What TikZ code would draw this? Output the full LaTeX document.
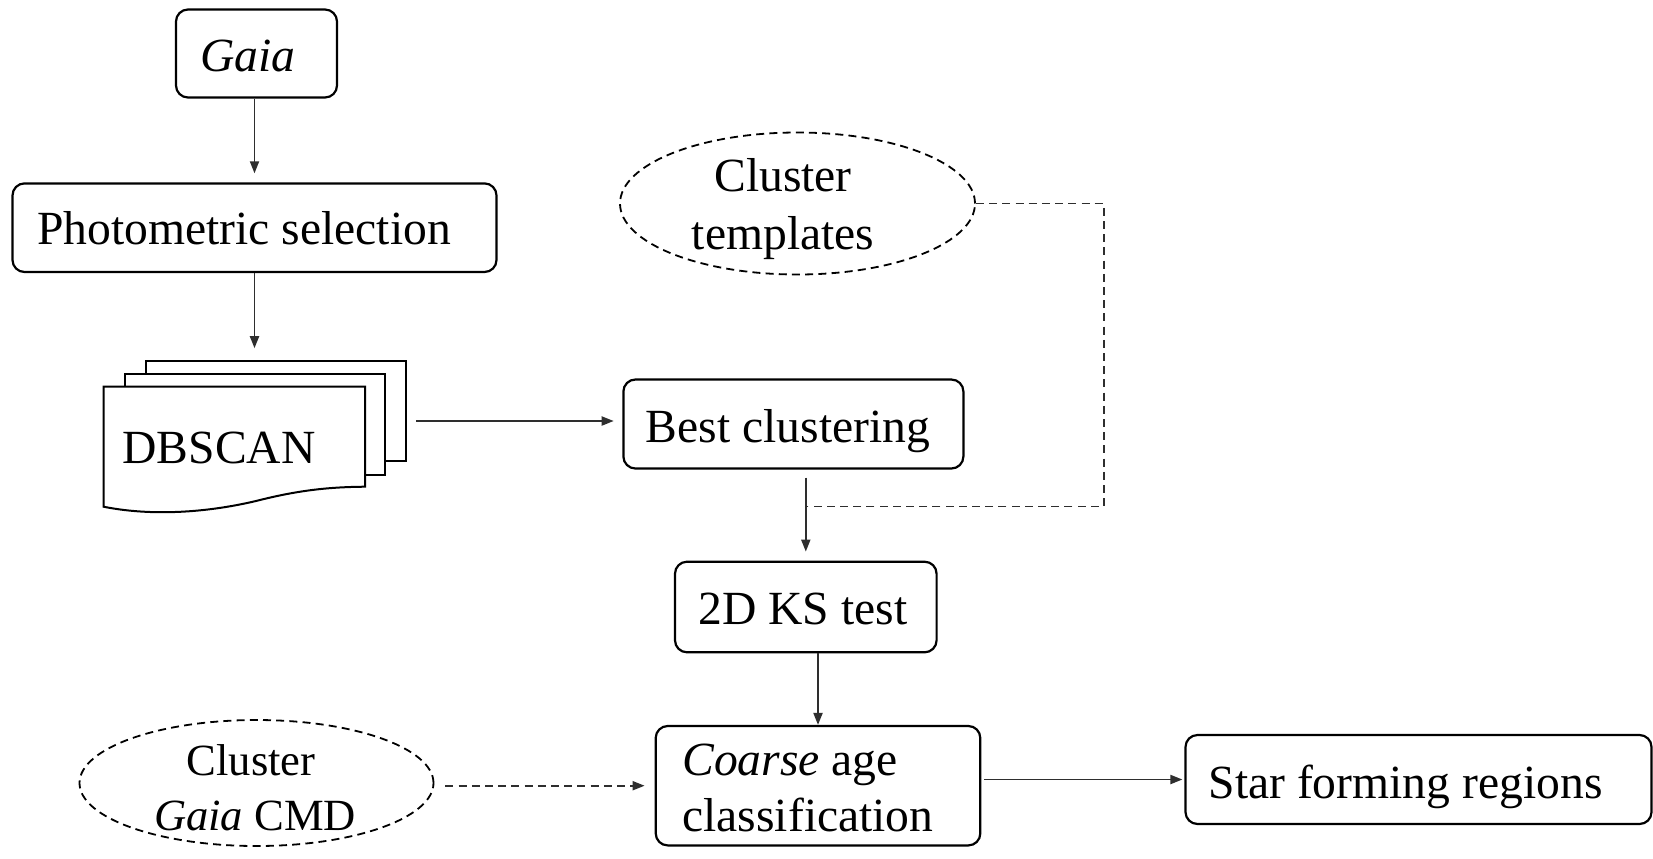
\documentclass[tikz,border=0pt]{standalone}
\usepackage{fontspec}
\setmainfont{Liberation Serif}
\usetikzlibrary{arrows.meta,shapes.geometric,calc}
\definecolor{conn}{HTML}{2E2E2E}
\tikzset{
  boxnode/.style={draw=black,line width=1.1pt,rounded corners=6pt,inner sep=0pt},
  ellnode/.style={draw=black,ellipse,dashed,dash pattern=on 4pt off 2.6pt,line width=0.9pt,inner sep=0pt},
  txt/.style={anchor=base,inner sep=0pt,font=\fontsize{23.8}{28.7}\selectfont},
  txtsmall/.style={anchor=base,inner sep=0pt,font=\fontsize{22.3}{26}\selectfont},
  arr/.style={draw=conn,line width=0.95pt,-{Triangle[length=6pt,width=4.5pt]}},
  darr/.style={arr,dash pattern=on 4pt off 2.6pt},
  dline/.style={draw=conn,line width=0.95pt,dash pattern=on 4pt off 2.6pt},
  docsheet/.style={draw=black,line width=1pt,fill=white}
}
\begin{document}
\begin{tikzpicture}[x=0.5pt,y=-0.5pt]
\useasboundingbox (0,0) rectangle (1653,858);
\fill[white] (0,0) rectangle (1653,858);

% boxes
\node[boxnode,minimum width=80.5pt,minimum height=44pt] (gaia) at (256.5,53.5) {};
\node[boxnode,minimum width=242pt,minimum height=44.3pt] (photo) at (254.5,227.7) {};
\node[boxnode,minimum width=170pt,minimum height=44.5pt] (best) at (793.4,424) {};
\node[boxnode,minimum width=130.8pt,minimum height=45.3pt] (ks) at (805.8,607) {};
\node[boxnode,minimum width=162.3pt,minimum height=59.7pt] (coarse) at (818,785.7) {};
\node[boxnode,minimum width=233pt,minimum height=44.5pt] (star) at (1418.5,779.5) {};

% ellipses
\node[ellnode,minimum width=177.5pt,minimum height=71pt] (tmpl) at (797.5,203.5) {};
\node[ellnode,minimum width=177pt,minimum height=63pt] (cmd) at (256.5,783) {};

% DBSCAN stacked documents
\node[inner sep=0pt,minimum width=130.2pt,minimum height=50.2pt] (dbscan) at (275.7,410.8) {};
\draw[docsheet] (145.5,360.5) rectangle (406,461);
\draw[docsheet] (124.5,373.5) rectangle (385,475);
\draw[docsheet] (103.5,386.5) -- (365,386.5) -- (365,486.7)
  .. controls (330,487) and (300,490) .. (260,500)
  .. controls (220,510) and (160,518) .. (103.5,506.7) -- cycle;

% texts
\node[txt] (tgaia) at (248,71.7) {\textit{Gaia}};
\node[txt] (tphoto) at (244,244.6) {Photometric selection};
\node[txt] (tdb) at (219,463.3) {DBSCAN};
\node[txt] (tbest) at (788,442) {Best clustering};
\node[txt] (tks) at (803,624) {2D KS test};
\node[txt,anchor=base west] (tcoarse1) at (682,775) {\textit{Coarse} age};
\node[txt,anchor=base west] (tcoarse2) at (682,831.7) {classification};
\node[txt] (tstar) at (1405.5,798.3) {Star forming regions};
\node[txt] (ttmpl1) at (783,191.7) {Cluster};
\node[txt] (ttmpl2) at (783,249) {templates};
\node[txtsmall] (tcmd1) at (251,775) {Cluster};
\node[txtsmall] (tcmd2) at (255,830) {\textit{Gaia} CMD};

% connectors
\draw[arr,shorten >=4.5pt] (gaia.south -| photo.north) -- (photo.north);
\draw[arr,shorten >=6pt] (photo.south) -- (photo.south |- dbscan.north);
\draw[arr,shorten <=5pt,shorten >=4.3pt] (dbscan.east |- 0,421) -- (best.west |- 0,421);
\draw[arr,shorten <=4pt,shorten >=4.5pt] (best.south -| ks.north) -- (ks.north);
\coordinate (join) at (805.8,506.5);
\draw[dline] (tmpl.east) -- (1103.6,203.5) |- (join);
\draw[arr] (ks.south -| coarse.north) -- (coarse.north);
\draw[darr,shorten <=5.5pt,shorten >=5pt] (cmd.east |- coarse.west) -- (coarse.west);
\draw[arr,shorten <=1.5pt,shorten >=1pt] (coarse.east |- star.west) -- (star.west);
\end{tikzpicture}
\end{document}
